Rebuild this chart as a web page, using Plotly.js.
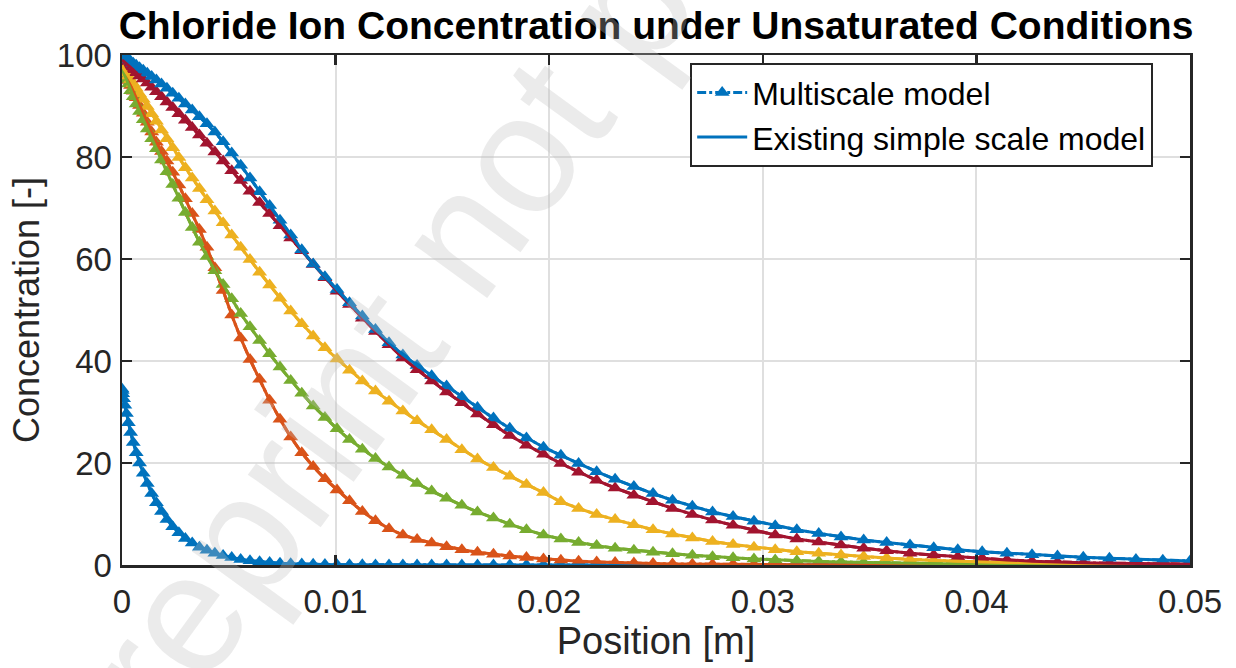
<!DOCTYPE html>
<html>
<head>
<meta charset="utf-8">
<script src="https://cdn.plot.ly/plotly-3.0.1.min.js"></script>
<style>html,body{margin:0;padding:0;background:#fff;}#chart{width:1236px;height:668px;}</style>
</head>
<body>
<div id="chart"></div>
<script>
// Mesh positions [m]
const positionM = [0, 0.0000082, 0.0000329, 0.0000740, 0.0001315, 0.0002055, 0.0002959, 0.0004027, 0.0005260, 0.0006657,
  0.0008218, 0.0009944, 0.0011834, 0.0013889, 0.0016108, 0.0018491, 0.0021039, 0.0023751, 0.0026627, 0.0029668,
  0.0032873, 0.0036243, 0.0039777, 0.0043475, 0.0047337, 0.0051364, 0.0055556, 0.0059911, 0.0064431, 0.0069116,
  0.0073964, 0.0078977, 0.0084155, 0.0089497, 0.0095003, 0.0100674, 0.0106509, 0.0112508, 0.0118672, 0.0125000,
  0.0131492, 0.0138149, 0.0144970, 0.0151956, 0.0159106, 0.0166420, 0.0173899, 0.0181542, 0.0189349, 0.0197321,
  0.0205457, 0.0213757, 0.0222222, 0.0230851, 0.0239645, 0.0248603, 0.0257725, 0.0267012, 0.0276463, 0.0286078,
  0.0295858, 0.0305802, 0.0315911, 0.0326184, 0.0336621, 0.0347222, 0.0357988, 0.0368919, 0.0380013, 0.0391272,
  0.0402696, 0.0414284, 0.0426036, 0.0437952, 0.0450033, 0.0462278, 0.0474688, 0.0487262, 0.0500000];

// Concentration profiles [-]
const profileBlueLow = [34.5, 34.2, 33.6, 32.6, 31.3, 29.7, 27.9, 26.0, 24.0, 22.0,
  20.0, 18.0, 16.0, 14.0, 12.2, 10.5, 8.9, 7.5, 6.3, 5.2,
  4.3, 3.5, 2.9, 2.3, 1.85, 1.45, 1.1, 0.85, 0.65, 0.48,
  0.35, 0.26, 0.19, 0.13, 0.09, 0.06, 0.04, 0.03, 0.02, 0.01,
  0, 0, 0, 0, 0, 0, 0, 0, 0, 0,
  0, 0, 0, 0, 0, 0, 0, 0, 0, 0,
  0, 0, 0, 0, 0, 0, 0, 0, 0, 0,
  0, 0, 0, 0, 0, 0, 0, 0, 0];
const profileOrange = [98, 97.9, 97.6, 97.2, 96.6, 95.9, 95.0, 94.0, 92.9, 91.6,
  90.1, 88.6, 86.8, 84.9, 82.9, 81.1, 79.2, 77.0, 74.5, 71.8,
  68.9, 65.8, 62.3, 58.3, 53.8, 49.0, 44.5, 40.3, 36.4, 32.3,
  28.6, 25.1, 22.0, 19.3, 16.9, 14.7, 12.6, 10.5, 8.7, 7.1,
  5.9, 5.0, 4.3, 3.6, 3.0, 2.5, 2.1, 1.75, 1.45, 1.2,
  0.95, 0.75, 0.6, 0.47, 0.37, 0.29, 0.22, 0.17, 0.13, 0.1,
  0.08, 0.06, 0.05, 0.04, 0.03, 0.02, 0.02, 0.01, 0.01, 0.01,
  0.01, 0, 0, 0, 0, 0, 0, 0, 0];
const profileGreen = [97.5, 97.3, 97.0, 96.6, 96.0, 95.2, 94.3, 93.0, 91.8, 90.4,
  88.9, 87.3, 85.5, 83.6, 81.6, 79.4, 77.1, 74.6, 71.9, 69.1,
  66.2, 63.3, 60.5, 57.7, 55.0, 52.2, 49.3, 46.7, 44.0, 41.4,
  38.8, 36.2, 33.7, 31.2, 28.9, 26.7, 24.6, 22.7, 20.9, 19.2,
  17.6, 16.0, 14.5, 13.1, 11.7, 10.4, 9.2, 8.0, 6.9, 5.9,
  5.1, 4.4, 3.8, 3.3, 2.9, 2.5, 2.2, 1.9, 1.6, 1.4,
  1.2, 1.0, 0.85, 0.7, 0.6, 0.5, 0.4, 0.33, 0.27, 0.22,
  0.18, 0.15, 0.12, 0.1, 0.08, 0.06, 0.05, 0.04, 0.03];
const profileYellow = [98, 97.9, 97.7, 97.4, 97.0, 96.5, 95.9, 95.2, 94.4, 93.5,
  92.4, 91.3, 89.9, 88.5, 87.0, 85.3, 83.6, 81.8, 79.9, 77.9,
  75.9, 73.8, 71.6, 69.4, 67.1, 64.7, 62.3, 59.9, 57.4, 54.9,
  52.3, 49.8, 47.3, 44.9, 42.6, 40.4, 38.2, 36.1, 34.1, 32.1,
  30.2, 28.3, 26.5, 24.6, 22.6, 20.8, 19.1, 17.4, 15.8, 14.2,
  12.4, 11.1, 9.9, 8.9, 7.9, 6.9, 6.1, 5.3, 4.6, 4.0,
  3.5, 3.0, 2.6, 2.3, 1.95, 1.65, 1.35, 1.1, 0.9, 0.75,
  0.6, 0.5, 0.4, 0.3, 0.25, 0.2, 0.15, 0.12, 0.1];
const profileDarkRed = [99, 99, 98.9, 98.8, 98.6, 98.3, 98.0, 97.6, 97.1, 96.5,
  95.9, 95.3, 94.5, 93.7, 92.8, 91.8, 90.8, 89.7, 88.5, 87.2,
  85.8, 84.3, 82.7, 81.0, 79.2, 77.3, 75.4, 73.3, 71.1, 68.9,
  66.5, 64.1, 61.6, 58.9, 56.3, 53.7, 51.1, 48.4, 45.8, 43.2,
  40.6, 38.3, 36.1, 33.9, 31.8, 29.6, 27.5, 25.4, 23.5, 21.7,
  19.9, 18.2, 16.6, 15.1, 13.7, 12.4, 11.1, 9.9, 8.8, 7.8,
  6.8, 5.9, 5.1, 4.5, 3.9, 3.3, 2.8, 2.3, 1.95, 1.6,
  1.3, 1.0, 0.75, 0.55, 0.45, 0.35, 0.3, 0.25, 0.2];
const profileBlueHigh = [100, 99.97, 99.9, 99.8, 99.6, 99.4, 99.1, 98.8, 98.4, 98.0,
  97.5, 97.0, 96.4, 95.8, 95.1, 94.3, 93.5, 92.5, 91.5, 90.4,
  89.2, 87.9, 86.5, 84.9, 83.0, 80.8, 78.4, 75.9, 73.2, 70.5,
  67.6, 64.7, 61.8, 59.0, 56.5, 54.0, 51.4, 48.8, 46.2, 43.6,
  41.2, 39.1, 37.1, 35.1, 33.0, 30.9, 28.8, 26.8, 24.9, 23.1,
  21.5, 19.9, 18.3, 16.8, 15.4, 14.0, 12.7, 11.5, 10.4, 9.5,
  8.6, 7.7, 6.9, 6.2, 5.5, 4.9, 4.4, 3.9, 3.4, 3.0,
  2.6, 2.3, 2.0, 1.75, 1.5, 1.3, 1.1, 0.95, 0.8];

const seriesNames = ['Multiscale model', 'Existing simple scale model'];
const titleText = 'Chloride Ion Concentration under Unsaturated Conditions';
const xTitle = 'Position [m]';
const yTitle = 'Concentration [-]';
const watermark = 'Preprint not peer reviewed';

const profiles = [profileBlueLow, profileOrange, profileGreen, profileYellow, profileDarkRed, profileBlueHigh];
const colors = ['#0072BD', '#D95319', '#77AC30', '#EDB120', '#A2142F', '#0072BD'];

const traces = [];
profiles.forEach((p, k) => {
  traces.push({
    x: positionM, y: p, type: 'scatter', mode: 'lines+markers',
    name: seriesNames[0], showlegend: k === 0, legendrank: 1,
    line: {color: colors[k], width: 3, dash: 'dashdot'},
    marker: {symbol: 'triangle-up', size: 13, color: colors[k], line: {width: 0}}
  });
});
profiles.forEach((p, k) => {
  traces.push({
    x: positionM, y: p, type: 'scatter', mode: 'lines',
    name: seriesNames[1], showlegend: k === 0, legendrank: 2,
    line: {color: colors[k], width: 3}
  });
});

const FONT = 'Liberation Sans, Arial, Helvetica, sans-serif';
const axisCommon = {
  showgrid: true, gridcolor: '#dfdfdf', gridwidth: 2,
  showline: true, linecolor: '#262626', linewidth: 2.5, mirror: 'ticks',
  ticks: 'inside', ticklen: 10, tickwidth: 2.5, tickcolor: '#262626',
  zeroline: false, tickfont: {size: 33, color: '#262626', family: FONT}
};

const layout = {
  width: 1236, height: 668,
  margin: {l: 122, r: 46, t: 55, b: 103},
  paper_bgcolor: '#ffffff', plot_bgcolor: '#ffffff',
  font: {family: FONT, color: '#262626', size: 31},
  title: {text: '<b>' + titleText + '</b>', font: {size: 39, color: '#000000', family: FONT},
          xref: 'paper', x: 0.5, xanchor: 'center', yref: 'container', y: 0.962, yanchor: 'middle'},
  xaxis: Object.assign({}, axisCommon, {range: [0, 0.05], tick0: 0, dtick: 0.01, ticklabelstandoff: 6,
    title: {text: xTitle, font: {size: 38, color: '#262626'}, standoff: 4}}),
  yaxis: Object.assign({}, axisCommon, {range: [0, 100], tick0: 0, dtick: 20, ticklabelstandoff: 1,
    title: {text: yTitle, font: {size: 36, color: '#262626'}, standoff: 6}}),
  showlegend: true,
  legend: {x: 0.532, y: 0.984, xanchor: 'left', yanchor: 'top', bgcolor: '#ffffff',
           bordercolor: '#262626', borderwidth: 2, font: {size: 32, color: '#000000'},
           tracegroupgap: 0, itemwidth: 50},
  annotations: [{text: watermark, xref: 'paper', yref: 'paper', x: 0.486, y: 1.135,
    xanchor: 'center', yanchor: 'middle',
    showarrow: false, textangle: -54, font: {size: 170, color: 'rgba(191,191,191,0.31)', family: FONT}}]
};

Plotly.newPlot('chart', traces, layout, {displayModeBar: false, staticPlot: true});
</script>
</body>
</html>
